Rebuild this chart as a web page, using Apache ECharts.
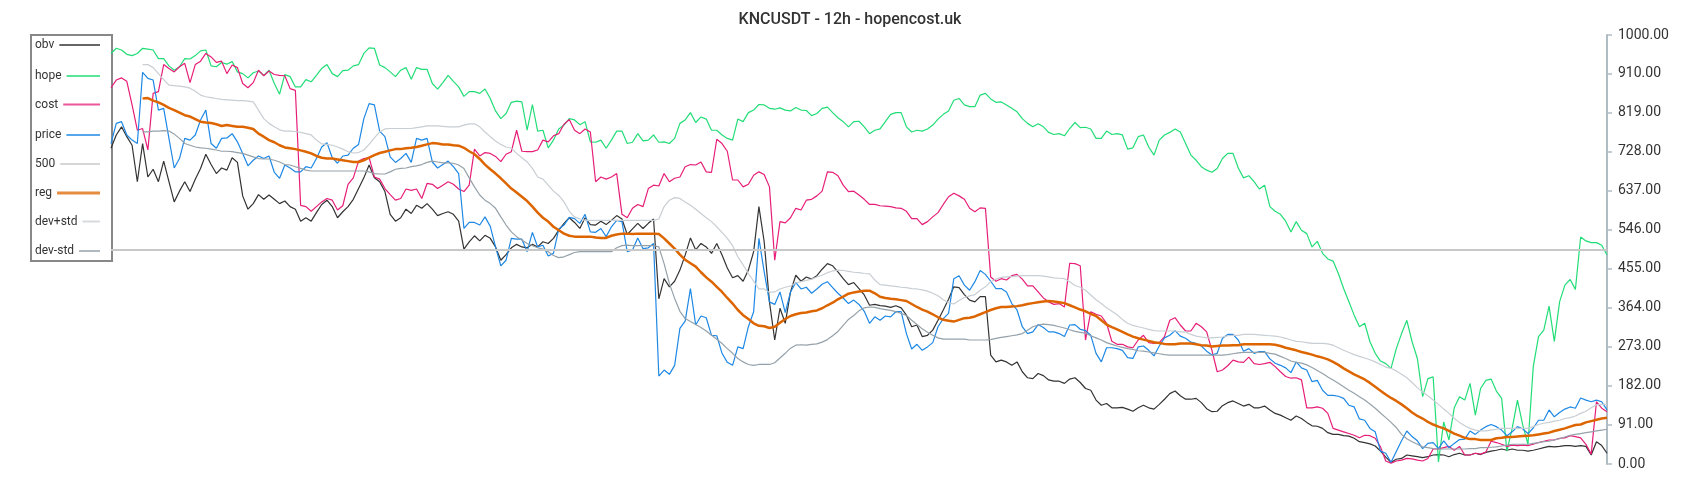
<!DOCTYPE html>
<html>
<head>
<meta charset="utf-8">
<script src="https://cdn.jsdelivr.net/npm/echarts@6/dist/echarts.min.js"></script>
<style>
  html, body { margin: 0; padding: 0; background: #ffffff; }
  #chart { width: 1700px; height: 500px; }
</style>
</head>
<body>
<div id="chart"></div>
<script>
const TITLE = 'KNCUSDT - 12h - hopencost.uk';
const LEVEL_500 = 500;
const Y_MIN = 0, Y_MAX = 1000, Y_STEP = 91;

const obv = [
736,767,786,763,743,658,747,669,687,658,706,658,611,636,658,635,664,689,722,698,677,690,685,714,703,625,594,607,628,617,627,617,607,613,600,594,566,574,566,586,605,
615,600,574,588,600,617,642,667,697,667,658,635,582,566,574,594,584,603,596,607,594,579,584,588,582,566,501,518,532,520,533,526,506,475,488,504,512,506,504,512,506,
518,514,526,545,561,574,563,549,574,558,557,566,558,568,579,571,535,548,561,549,561,571,385,432,413,426,452,487,527,499,514,506,491,514,487,457,434,439,426,452,495,
600,518,378,289,363,328,401,440,426,436,431,439,454,467,462,448,432,418,423,409,394,370,372,369,368,365,369,364,347,320,324,297,300,312,335,359,384,413,411,395,382,
378,390,390,254,238,242,238,230,238,215,201,199,211,206,196,193,193,188,198,201,190,176,172,149,137,141,131,131,132,128,123,131,137,131,128,139,151,164,170,159,151,
151,153,143,129,122,123,136,143,147,141,135,139,131,131,135,126,118,114,108,102,112,106,97,89,88,83,73,69,69,66,65,60,52,50,47,42,30,16,4,11,
13,21,19,17,15,17,21,22,21,17,22,25,21,21,25,22,27,30,32,35,32,35,32,32,30,32,35,38,41,40,41,43,43,41,43,41,21,52,43,25
];

const hope = [
957,969,965,955,952,957,969,967,965,945,945,928,918,926,945,944,952,963,965,928,926,936,932,938,914,910,900,912,916,906,918,887,862,908,903,879,879,896,891,906,922,
931,910,903,917,918,928,931,957,970,969,930,924,914,903,918,924,897,924,920,920,887,874,889,906,892,879,857,868,868,864,874,852,823,805,817,843,846,844,778,838,776,
778,737,755,781,790,805,802,791,798,751,750,755,736,755,776,776,747,750,770,753,755,767,750,751,747,759,794,802,819,796,809,804,778,778,767,759,755,804,798,819,825,
838,837,829,827,830,825,823,831,825,824,812,817,829,832,819,807,798,786,798,799,786,770,778,781,798,815,819,819,786,774,778,776,781,790,804,815,823,848,852,837,833,
833,860,864,851,843,844,837,829,821,805,794,786,793,786,773,768,770,765,782,796,784,785,781,759,759,776,768,770,767,734,737,763,767,739,720,755,767,773,781,774,747,
720,708,693,685,680,689,712,724,724,690,667,672,658,641,650,600,589,582,566,541,565,545,537,506,519,491,478,473,444,409,378,347,320,328,285,258,240,234,223,269,
304,335,285,246,157,199,203,5,98,56,131,157,149,188,114,176,195,198,170,153,30,83,149,91,46,227,297,312,368,286,378,417,430,407,529,520,516,516,510,487
];

const cost = [
877,895,900,892,837,778,782,732,864,868,931,922,914,926,934,889,931,939,957,949,936,939,910,930,924,887,877,889,918,905,916,908,906,905,875,871,603,600,589,600,611,
619,615,592,602,652,667,706,712,714,669,664,642,628,615,619,641,638,641,619,654,652,642,650,658,652,641,635,650,734,718,726,724,717,705,722,728,778,729,728,728,732,
755,751,765,770,792,803,778,770,781,774,658,669,664,669,677,582,574,596,605,600,642,650,648,677,658,666,669,693,698,697,704,681,680,757,747,729,662,662,646,652,673,
681,675,646,475,565,562,574,596,592,615,617,625,636,681,680,672,650,635,636,627,617,605,605,602,601,600,597,596,589,572,572,558,565,576,586,605,623,631,625,617,596,
588,597,596,436,426,432,429,439,442,431,415,415,401,387,378,372,374,366,468,467,462,289,355,349,345,328,286,279,279,273,271,289,300,283,281,283,297,335,341,324,310,
310,328,320,308,265,215,219,229,242,238,237,249,234,232,234,237,227,215,204,200,201,196,131,131,133,130,118,83,79,75,71,67,61,67,66,60,40,7,2,7,
9,13,12,9,7,13,35,35,38,41,32,41,21,21,25,23,28,53,50,46,41,44,43,44,43,46,50,53,56,56,60,61,66,64,61,46,23,145,130,122
];

const price = [
747,794,798,767,755,747,913,899,895,825,829,759,690,712,759,755,767,802,825,747,736,759,760,770,751,724,695,708,718,712,718,680,666,697,690,681,681,693,690,712,739,
749,714,701,718,720,736,745,805,840,837,776,763,716,703,712,724,703,759,755,759,704,690,698,706,693,677,549,563,563,557,576,554,506,462,475,526,524,524,495,540,506,
510,485,491,548,557,575,572,561,582,541,540,549,530,553,568,565,495,499,527,502,504,514,205,219,209,230,316,333,409,324,345,341,300,299,258,237,230,273,269,320,355,
526,448,378,372,401,353,401,423,408,412,398,408,419,425,411,398,387,374,382,372,356,328,343,335,345,343,355,355,304,268,279,265,273,283,320,339,351,432,439,417,405,
425,451,442,426,409,409,401,374,359,320,304,308,325,318,308,308,304,297,324,325,314,311,300,258,238,271,271,269,265,248,246,273,275,265,252,275,294,300,311,298,293,
284,281,275,263,254,258,293,302,302,289,263,269,258,262,262,245,235,230,224,213,238,224,219,192,195,172,160,160,158,153,137,133,105,102,83,75,30,25,4,29,
54,77,64,54,36,48,50,36,54,38,48,57,58,77,69,79,87,92,87,79,66,75,87,82,71,84,102,102,126,110,120,128,133,130,154,149,145,149,145,126
];

const reg = [
null,null,null,null,null,null,
852,853,847,843,837,830,825,819,813,810,804,798,796,795,792,788,790,788,786,786,784,781,770,763,755,750,743,738,736,734,731,728,724,718,714,
712,712,710,708,706,704,704,708,714,720,725,728,731,734,734,736,737,739,742,745,748,747,745,745,743,742,737,729,722,711,698,687,677,666,654,642,633,623,613,600,586,
574,565,553,545,537,532,530,530,530,530,528,527,527,532,535,537,537,536,537,537,537,537,536,526,514,502,488,476,468,460,447,435,425,413,401,387,374,359,347,338,328,
322,321,317,320,329,338,345,349,352,353,356,358,363,370,376,384,390,397,400,402,404,404,398,390,387,385,384,382,380,373,366,360,355,349,342,336,334,332,336,340,341,
344,349,354,359,363,366,366,367,368,370,373,375,377,379,380,379,377,375,370,365,360,356,350,345,335,325,319,314,308,302,297,293,290,287,284,282,280,279,279,281,281,
281,279,277,276,274,275,276,276,277,277,279,279,279,279,279,279,278,275,271,268,265,261,258,255,251,248,244,238,231,223,216,209,203,197,189,180,171,162,154,147,
139,130,120,112,106,98,92,87,83,77,71,66,61,58,58,56,56,56,60,61,63,63,64,65,66,67,69,71,73,77,80,83,87,91,92,97,100,103,106,108
];

const devPlus = [
null,null,null,null,null,null,
931,931,924,910,896,883,882,881,879,876,869,860,856,854,852,850,849,848,847,847,846,844,825,805,794,786,779,776,776,775,773,770,767,755,746,
745,743,739,734,728,725,726,732,745,760,774,781,782,782,782,782,782,784,786,788,788,788,787,786,786,786,790,793,793,786,774,763,753,745,739,736,724,714,704,689,669,
664,650,636,626,611,589,576,571,568,568,568,568,568,568,568,568,568,568,568,568,568,568,571,600,615,621,619,611,603,594,584,574,565,553,540,526,509,483,464,444,426,
408,408,400,401,408,412,415,422,425,428,431,436,440,446,450,452,451,449,447,446,444,443,429,418,417,415,414,412,411,409,408,406,403,398,392,383,376,373,381,388,392,
395,405,413,425,431,435,436,437,438,439,439,439,439,438,436,434,433,432,425,416,412,405,394,383,374,364,356,348,337,328,323,320,317,314,311,310,310,310,310,308,308,
302,298,296,294,294,295,296,299,300,300,302,302,302,301,300,299,298,296,293,289,286,285,283,281,281,281,280,277,271,265,260,255,251,247,243,238,232,226,223,217,
209,201,190,178,168,159,149,139,128,118,106,97,89,83,79,77,77,79,81,83,83,83,83,83,83,87,92,95,97,100,102,106,108,112,118,123,131,138,139,139
];

const devMinus = [
null,null,null,null,null,null,
774,774,776,776,777,776,769,759,747,743,739,737,736,734,732,729,729,728,726,724,720,716,712,711,711,708,704,698,697,693,689,685,683,683,683,
683,683,683,683,683,683,683,683,681,677,676,676,681,687,689,690,693,695,698,703,706,704,702,702,701,697,689,667,646,627,615,607,596,576,557,541,530,522,514,509,504,
501,495,486,481,483,488,493,495,495,495,495,495,495,495,504,509,510,509,509,509,509,509,506,467,421,386,356,339,332,325,318,310,300,291,281,269,258,246,238,232,230,
232,232,232,236,247,258,270,277,278,277,279,280,284,290,299,309,323,337,346,357,364,366,365,362,360,358,355,351,346,335,325,315,307,300,294,291,291,291,291,291,289,
289,289,289,290,293,295,297,299,301,304,312,320,324,326,325,323,320,317,313,309,307,305,299,294,289,283,279,275,272,269,267,264,263,261,259,257,255,254,254,254,254,
254,254,254,254,254,254,254,255,257,259,260,260,260,260,260,258,256,251,246,240,237,235,231,225,218,211,203,196,188,180,172,165,157,149,140,130,119,108,97,85,
69,59,52,46,40,38,36,35,35,35,35,35,35,36,36,38,38,39,40,42,44,46,46,46,46,48,50,52,53,56,59,63,67,69,71,73,75,77,79,81
];

const categories = obv.map((_, i) => i);

const FONT = 'Roboto, "Noto Sans", sans-serif';
const COLORS = {
  obv: '#333333',
  hope: '#22dd77',
  cost: '#e61e78',
  price: '#1e88e5',
  l500: '#c8c8c8',
  reg: '#dd6500',
  devPlus: '#c8ced3',
  devMinus: '#95a1a9'
};

const legendNames = ['obv', 'hope', 'cost', 'price', '500', 'reg', 'dev+std', 'dev-std'];
const legendCenters = [45, 76, 104.5, 135, 164, 193, 221.5, 251];
const legendIconH = [2, 2, 2, 2, 2, 3, 2, 2];
const LEGEND_TEXT_LEFT = 35, LEGEND_ICON_RIGHT = 100, LEGEND_FONT = 12;

const ctx = document.createElement('canvas').getContext('2d');
ctx.font = LEGEND_FONT + 'px Roboto';
const legends = legendNames.map((name, k) => {
  const tw = ctx.measureText(name).width;
  return {
    data: [name],
    orient: 'vertical',
    align: 'right',
    icon: 'rect',
    left: LEGEND_TEXT_LEFT,
    top: legendCenters[k] - 6,
    padding: 0,
    itemWidth: Math.max(10, LEGEND_ICON_RIGHT - LEGEND_TEXT_LEFT - 5 - tw),
    itemHeight: legendIconH[k],
    itemStyle: { opacity: 0.75 },
    textStyle: { fontSize: LEGEND_FONT, color: '#333', fontFamily: FONT },
    selectedMode: false
  };
});

function thin(name, data, color, width) {
  return {
    name, type: 'line', data, symbol: 'none', showSymbol: false,
    lineStyle: { color, width: width || 1.2 }, itemStyle: { color },
    connectNulls: false, silent: true
  };
}

const chart = echarts.init(document.getElementById('chart'), null, { renderer: 'canvas' });
chart.setOption({
  animation: false,
  backgroundColor: '#ffffff',
  title: {
    text: TITLE, left: 'center', top: 12, padding: 0,
    textStyle: { fontSize: 16, fontWeight: 500, color: '#333', fontFamily: FONT }
  },
  legend: legends,
  graphic: [{
    type: 'rect', left: 30, top: 34, z: -1,
    shape: { width: 81, height: 226 },
    style: { fill: '#fff', stroke: '#888', lineWidth: 2 }
  }],
  grid: { left: 111, right: 93, top: 35, bottom: 36 },
  xAxis: { type: 'category', data: categories, boundaryGap: false, show: false },
  yAxis: {
    type: 'value', position: 'right', min: Y_MIN, max: Y_MAX, interval: Y_STEP,
    axisLine: { show: true, lineStyle: { color: '#b0bcc4', width: 2 } },
    axisTick: { show: true, length: 5, lineStyle: { color: '#b0bcc4', width: 1.5 } },
    splitLine: { show: false },
    axisLabel: { margin: 11, fontSize: 14, color: '#333', fontFamily: FONT, formatter: v => v.toFixed(2) }
  },
  series: [
    thin('obv', obv, COLORS.obv),
    thin('hope', hope, COLORS.hope),
    thin('cost', cost, COLORS.cost),
    thin('price', price, COLORS.price),
    {
      name: '500', type: 'line', data: [], symbol: 'none',
      lineStyle: { color: COLORS.l500, width: 2 }, itemStyle: { color: COLORS.l500 },
      markLine: {
        silent: true, symbol: 'none', label: { show: false },
        lineStyle: { color: COLORS.l500, width: 2, type: 'solid' },
        data: [{ yAxis: LEVEL_500 }]
      }
    },
    thin('reg', reg, COLORS.reg, 2.5),
    thin('dev+std', devPlus, COLORS.devPlus),
    thin('dev-std', devMinus, COLORS.devMinus)
  ]
});
</script>
</body>
</html>
